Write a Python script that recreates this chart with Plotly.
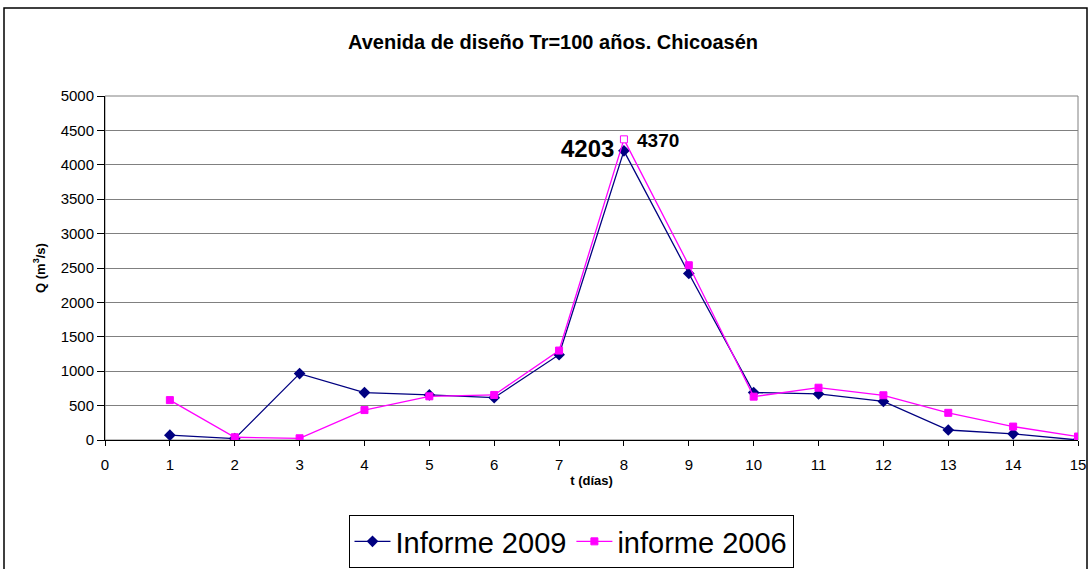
import plotly.graph_objects as go

# Flood hydrograph data, Chicoasén design flood (Tr = 100 years)
dias = [1, 2, 3, 4, 5, 6, 7, 8, 9, 10, 11, 12, 13, 14, 15]
informe_2009 = [70, 20, 965, 690, 655, 615, 1240, 4203, 2420, 690, 670, 560, 145, 90, 0]
informe_2006 = [580, 40, 25, 435, 635, 655, 1300, 4370, 2540, 630, 760, 650, 395, 195, 50]

pico_2009 = 4203
pico_2006 = 4370

titulo = "Avenida de diseño Tr=100 años. Chicoasén"
eje_x = "t (días)"
eje_y = "Q (m<sup>3</sup>/s)"

W, H = 1091, 569
L, R, T, B = 105, 1078, 96, 440  # plot-area pixel edges


def px(x):
    return (x - L) / (R - L)


def py(y):
    return (B - y) / (B - T)


fig = go.Figure()

fig.add_trace(go.Scatter(
    x=dias, y=informe_2009, name="Informe 2009", mode="lines+markers",
    line=dict(color="#000080", width=1.3),
    marker=dict(symbol="diamond", size=9, color="#000080"),
))

# The peak of the 2006 series is drawn as a hollow square
fill_2006 = ["white" if v == pico_2006 else "#FF00FF" for v in informe_2006]
fig.add_trace(go.Scatter(
    x=dias, y=informe_2006, name="informe 2006", mode="lines+markers",
    line=dict(color="#FF00FF", width=1.3),
    marker=dict(symbol="square", size=7, color=fill_2006,
                line=dict(color="#FF00FF", width=1)),
))

fig.add_annotation(x=8, y=pico_2009, text=f"<b>{pico_2009}</b>", showarrow=False,
                   xanchor="right", yanchor="middle", xshift=-8, yshift=2,
                   font=dict(family="Arial", size=24, color="black"))
fig.add_annotation(x=8, y=pico_2006, text=f"<b>{pico_2006}</b>", showarrow=False,
                   xanchor="left", yanchor="middle", xshift=11, yshift=-1,
                   font=dict(family="Arial", size=19, color="black"))

shapes = [
    # outer chart frame
    dict(type="rect", xref="paper", yref="paper",
         x0=px(4), x1=px(1087), y0=py(585), y1=py(8),
         line=dict(color="black", width=1.5), fillcolor="rgba(0,0,0,0)", layer="below"),
    # plot-area border
    dict(type="rect", xref="paper", yref="paper", x0=0, x1=1, y0=0, y1=1,
         line=dict(color="#808080", width=1), fillcolor="rgba(0,0,0,0)", layer="below"),
]

fig.update_layout(
    width=W, height=H,
    margin=dict(l=L, r=W - R, t=T, b=H - B),
    paper_bgcolor="white", plot_bgcolor="white",
    font=dict(family="Arial", color="black"),
    title=dict(text=f"<b>{titulo}</b>", x=px(553), xref="paper",
               y=1 - 42 / H, yanchor="middle", xanchor="center",
               font=dict(size=20, family="Arial")),
    shapes=shapes,
    showlegend=True,
    legend=dict(orientation="h", xref="container", yref="container",
                x=571 / W, xanchor="center", y=1 / H, yanchor="bottom",
                bordercolor="black", borderwidth=1, bgcolor="white",
                font=dict(size=29, family="Arial"), itemwidth=36,
                tracegroupgap=0),
)

fig.update_xaxes(
    range=[0, 15], dtick=1, tick0=0,
    showgrid=False, zeroline=False, automargin=False,
    showline=True, linecolor="black", linewidth=1,
    ticks="outside", ticklen=5, tickcolor="black", ticklabelstandoff=6,
    tickfont=dict(size=15, family="Arial"),
    title=dict(text=f"<b>{eje_x}</b>", font=dict(size=13, family="Arial"), standoff=3),
)
fig.update_yaxes(
    range=[0, 5000], dtick=500, tick0=0,
    showgrid=True, gridcolor="#808080", gridwidth=1, zeroline=False, automargin=False,
    showline=True, linecolor="black", linewidth=1,
    ticks="outside", ticklen=7, tickcolor="black",
    tickfont=dict(size=15, family="Arial"),
    title=dict(text=f"<b>{eje_y}</b>", font=dict(size=13, family="Arial"), standoff=12),
)

fig.write_html("out.html")
